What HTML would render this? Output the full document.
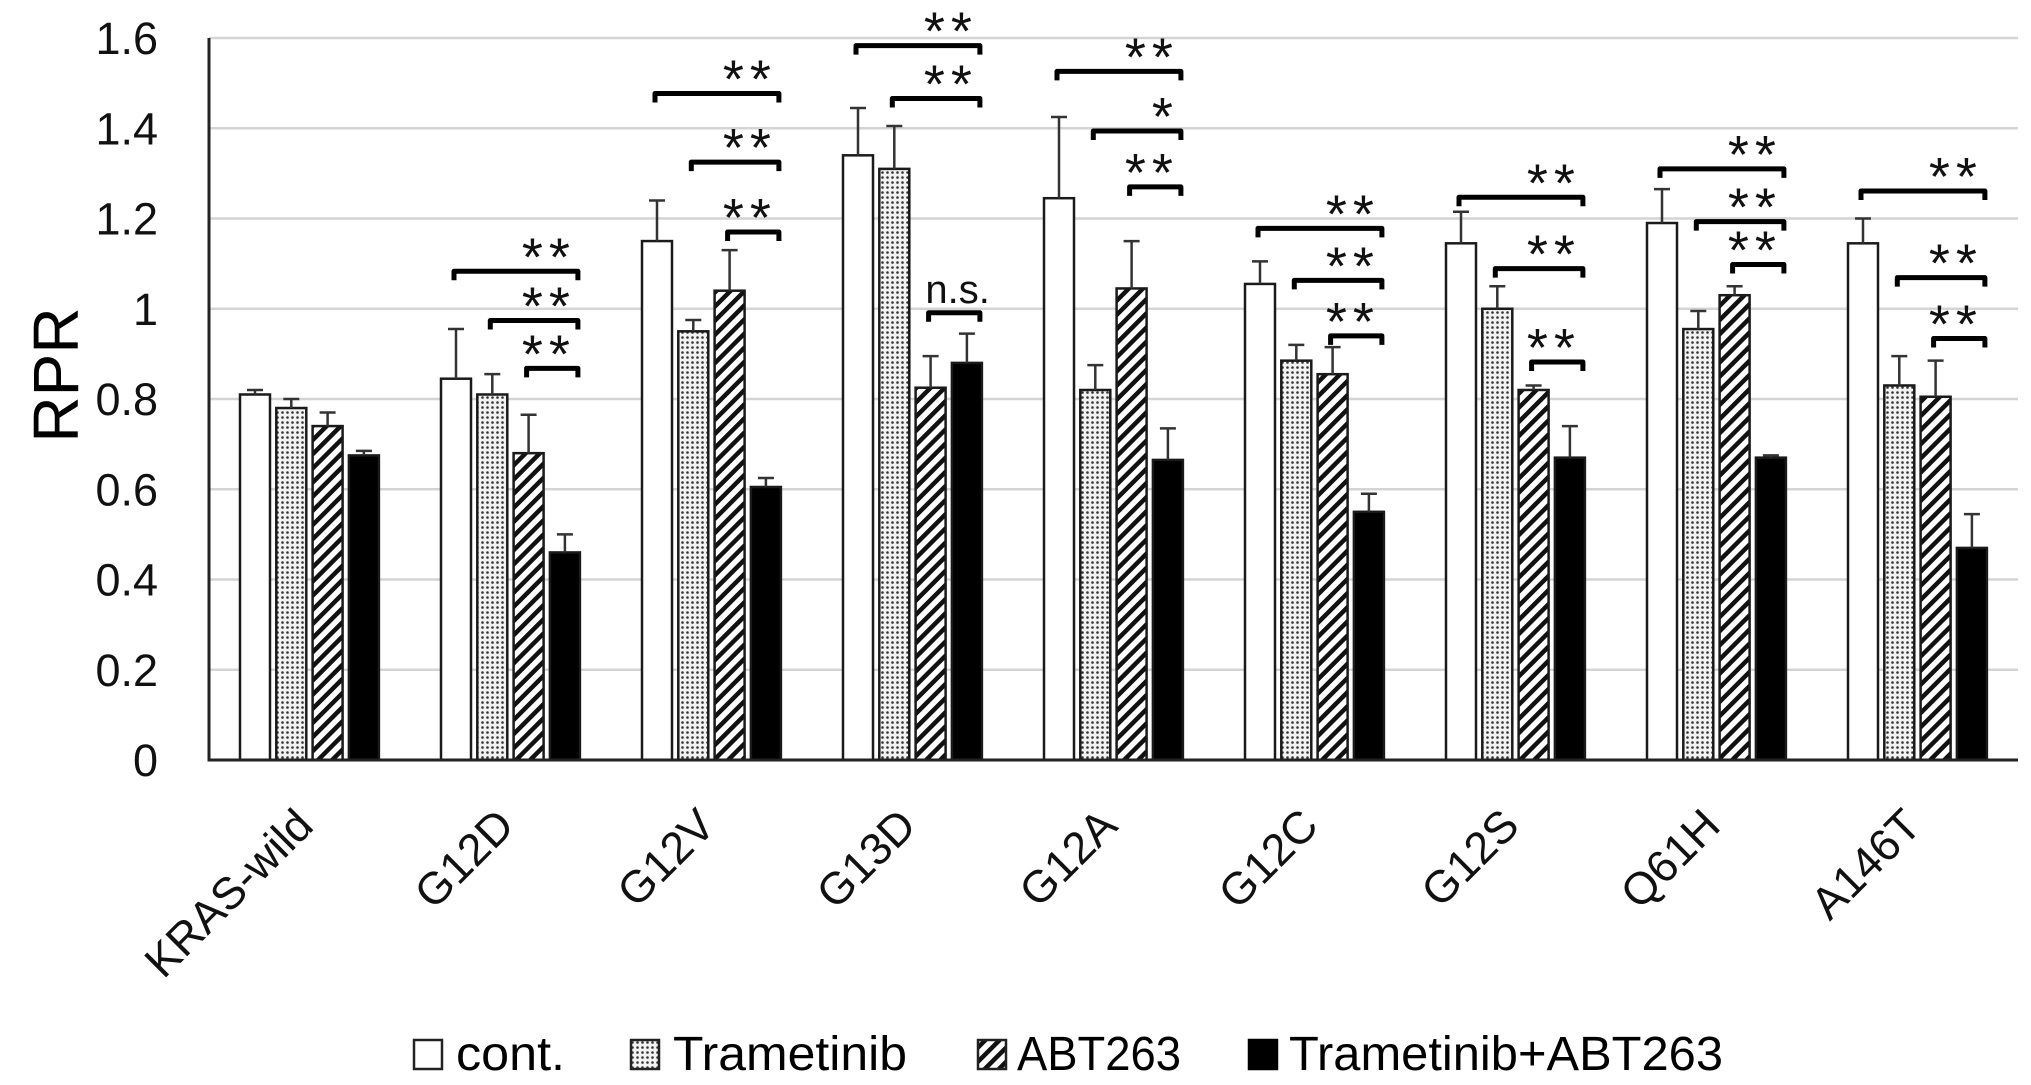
<!DOCTYPE html>
<html><head><meta charset="utf-8"><style>
html,body{margin:0;padding:0;background:#fff;}
svg{display:block;font-family:"Liberation Sans","DejaVu Sans",sans-serif;}
</style></head><body>
<svg id="chart" width="2031" height="1085" viewBox="0 0 2031 1085" xmlns="http://www.w3.org/2000/svg">
<defs>
<pattern id="dots" width="5" height="5" patternUnits="userSpaceOnUse">
<rect width="5" height="5" fill="#f2f2f2"/><circle cx="2.5" cy="2.5" r="1.3" fill="#333"/>
</pattern>
<pattern id="hatch" width="10" height="10" patternUnits="userSpaceOnUse" patternTransform="rotate(45)">
<rect width="10" height="10" fill="#fff"/><rect x="0" y="0" width="4.5" height="10" fill="#111"/>
</pattern>
</defs>
<g id="grid"></g>
<g id="bars"></g>
<g id="sig"></g>
<g id="axes"></g>
<text transform="translate(78,375) rotate(-90)" text-anchor="middle" font-size="64">RPR</text>
<g id="legend">
<g><rect x="414" y="1040" width="28" height="29" fill="#fff" stroke="#222" stroke-width="2.5"/><text x="456" y="1070" font-size="48" textLength="109" lengthAdjust="spacingAndGlyphs">cont.</text></g>
<g><rect x="631" y="1040" width="28" height="29" fill="url(#dots)" stroke="#222" stroke-width="2.5"/><text x="673" y="1070" font-size="48" textLength="234" lengthAdjust="spacingAndGlyphs">Trametinib</text></g>
<g><rect x="978" y="1040" width="28" height="29" fill="url(#hatch)" stroke="#222" stroke-width="2.5"/><text x="1017" y="1070" font-size="48" textLength="164" lengthAdjust="spacingAndGlyphs">ABT263</text></g>
<g><rect x="1249" y="1040" width="28" height="29" fill="#000" stroke="#000" stroke-width="2.5"/><text x="1289" y="1070" font-size="48" textLength="434" lengthAdjust="spacingAndGlyphs">Trametinib+ABT263</text></g>
</g>
</svg>
<script>
const categories = ["KRAS-wild","G12D","G12V","G13D","G12A","G12C","G12S","Q61H","A146T"];
const contVals = [0.81,0.845,1.15,1.34,1.245,1.055,1.145,1.19,1.145];
const contErr  = [0.01,0.11,0.09,0.105,0.18,0.05,0.07,0.075,0.055];
const tramVals = [0.78,0.81,0.95,1.31,0.82,0.885,1.0,0.955,0.83];
const tramErr  = [0.02,0.045,0.025,0.095,0.055,0.035,0.05,0.04,0.065];
const abtVals  = [0.74,0.68,1.04,0.825,1.045,0.855,0.82,1.03,0.805];
const abtErr   = [0.03,0.085,0.09,0.07,0.105,0.06,0.01,0.02,0.08];
const comboVals= [0.675,0.46,0.605,0.88,0.665,0.55,0.67,0.67,0.47];
const comboErr = [0.01,0.04,0.02,0.065,0.07,0.04,0.07,0.005,0.075];
const yTicks = [0,0.2,0.4,0.6,0.8,1,1.2,1.4,1.6];
const yTickLabels = ["0","0.2","0.4","0.6","0.8","1","1.2","1.4","1.6"];
// brackets: [category index, from-series index, bracket value, label]
const bracketCat   = [1,1,1, 2,2,2, 3,3,3, 4,4,4, 5,5,5, 6,6,6, 7,7,7, 8,8];
const bracketFrom  = [0,1,2, 0,1,2, 0,1,2, 0,1,2, 0,1,2, 0,1,2, 0,1,2, 1,2];
const bracketVal   = [1.083,0.974,0.868, 1.477,1.325,1.17, 1.583,1.466,0.991, 1.526,1.394,1.27, 1.178,1.063,0.94, 1.247,1.089,0.882, 1.31,1.193,1.098, 1.069,0.934];
const bracketLabel = ["**","**","**","**","**","**","**","**","n.s.","**","*","**","**","**","**","**","**","**","**","**","**","**","**"];
const topCat = 8, topVal = 1.261;

const NS="http://www.w3.org/2000/svg";
const X0=209, X1=2018, Y0=760, Y1=38, VMAX=1.6;
const catW=(X1-X0)/categories.length;
const barW=30, pitch=36.3, barOff=31;
const y=v=>Y0-(v/VMAX)*(Y0-Y1);
const barX=(c,s)=>X0+c*catW+barOff+s*pitch;
function mk(tag,attrs,parent){const e=document.createElementNS(NS,tag);for(const k in attrs)e.setAttribute(k,attrs[k]);parent.appendChild(e);return e;}
const grid=document.getElementById('grid'),bars=document.getElementById('bars'),sig=document.getElementById('sig'),axes=document.getElementById('axes');
yTicks.forEach((t,i)=>{
  if(t>0){const l=mk('line',{x1:X0,x2:X1,y1:y(t),y2:y(t),stroke:'#d4d4d4','stroke-width':2.5},grid);
  
  }
  const tx=mk('text',{x:158,y:y(t)+16,'text-anchor':'end','font-size':45,fill:'#111'},axes);
  tx.textContent=yTickLabels[i];
  
  
});
const series=[[contVals,contErr,'#fff'],[tramVals,tramErr,'url(#dots)'],[abtVals,abtErr,'url(#hatch)'],[comboVals,comboErr,'#000']];
const sNames=['cont','trametinib','abt263','combination'];
categories.forEach((c,ci)=>{
  series.forEach((s,si)=>{
    const v=s[0][ci],e=s[1][ci],x=barX(ci,si);
    const r=mk('rect',{x:x,y:y(v),width:barW,height:Y0-y(v),fill:s[2],stroke:'#1a1a1a','stroke-width':2.5},bars);
    
    
    const cx=x+barW/2;
    const eb=mk('path',{d:`M${cx},${y(v)} V${y(v+e)} M${cx-8},${y(v+e)} H${cx+8}`,stroke:'#333','stroke-width':2.5,fill:'none'},bars);
    
    
  });
  const cx=X0+(ci+0.5)*catW;
  const t=mk('text',{transform:`translate(${cx+6},828) rotate(-45)`,'text-anchor':'end','font-size':45,fill:'#111'},axes);
  t.textContent=c;
  
  
});
function bracket(ci,from,val,label){
  const x1=barX(ci,from)+barW/2-2, x2=barX(ci,3)+barW-2, yy=y(val);
  const p=mk('path',{d:`M${x1},${yy+9} V${yy} H${x2} V${yy+9}`,stroke:'#000','stroke-width':5,fill:'none','stroke-linejoin':'round'},sig);
  
  
  const ns=label==='n.s.';
  const t=mk('text',{x:ns?x2+10:x2-2,y:ns?yy-10:yy+4,'text-anchor':'end','font-size':ns?40:54,'letter-spacing':ns?0:6,fill:'#111'},sig);
  t.textContent=label;
  
  
}
bracketCat.forEach((c,i)=>bracket(c,bracketFrom[i],bracketVal[i],bracketLabel[i]));
bracket(topCat,0,topVal,"**");
const ax=mk('path',{d:`M${X0},${Y1} V${Y0} H${X1}`,stroke:'#222','stroke-width':3,fill:'none'},axes);


</script>
</body></html>
